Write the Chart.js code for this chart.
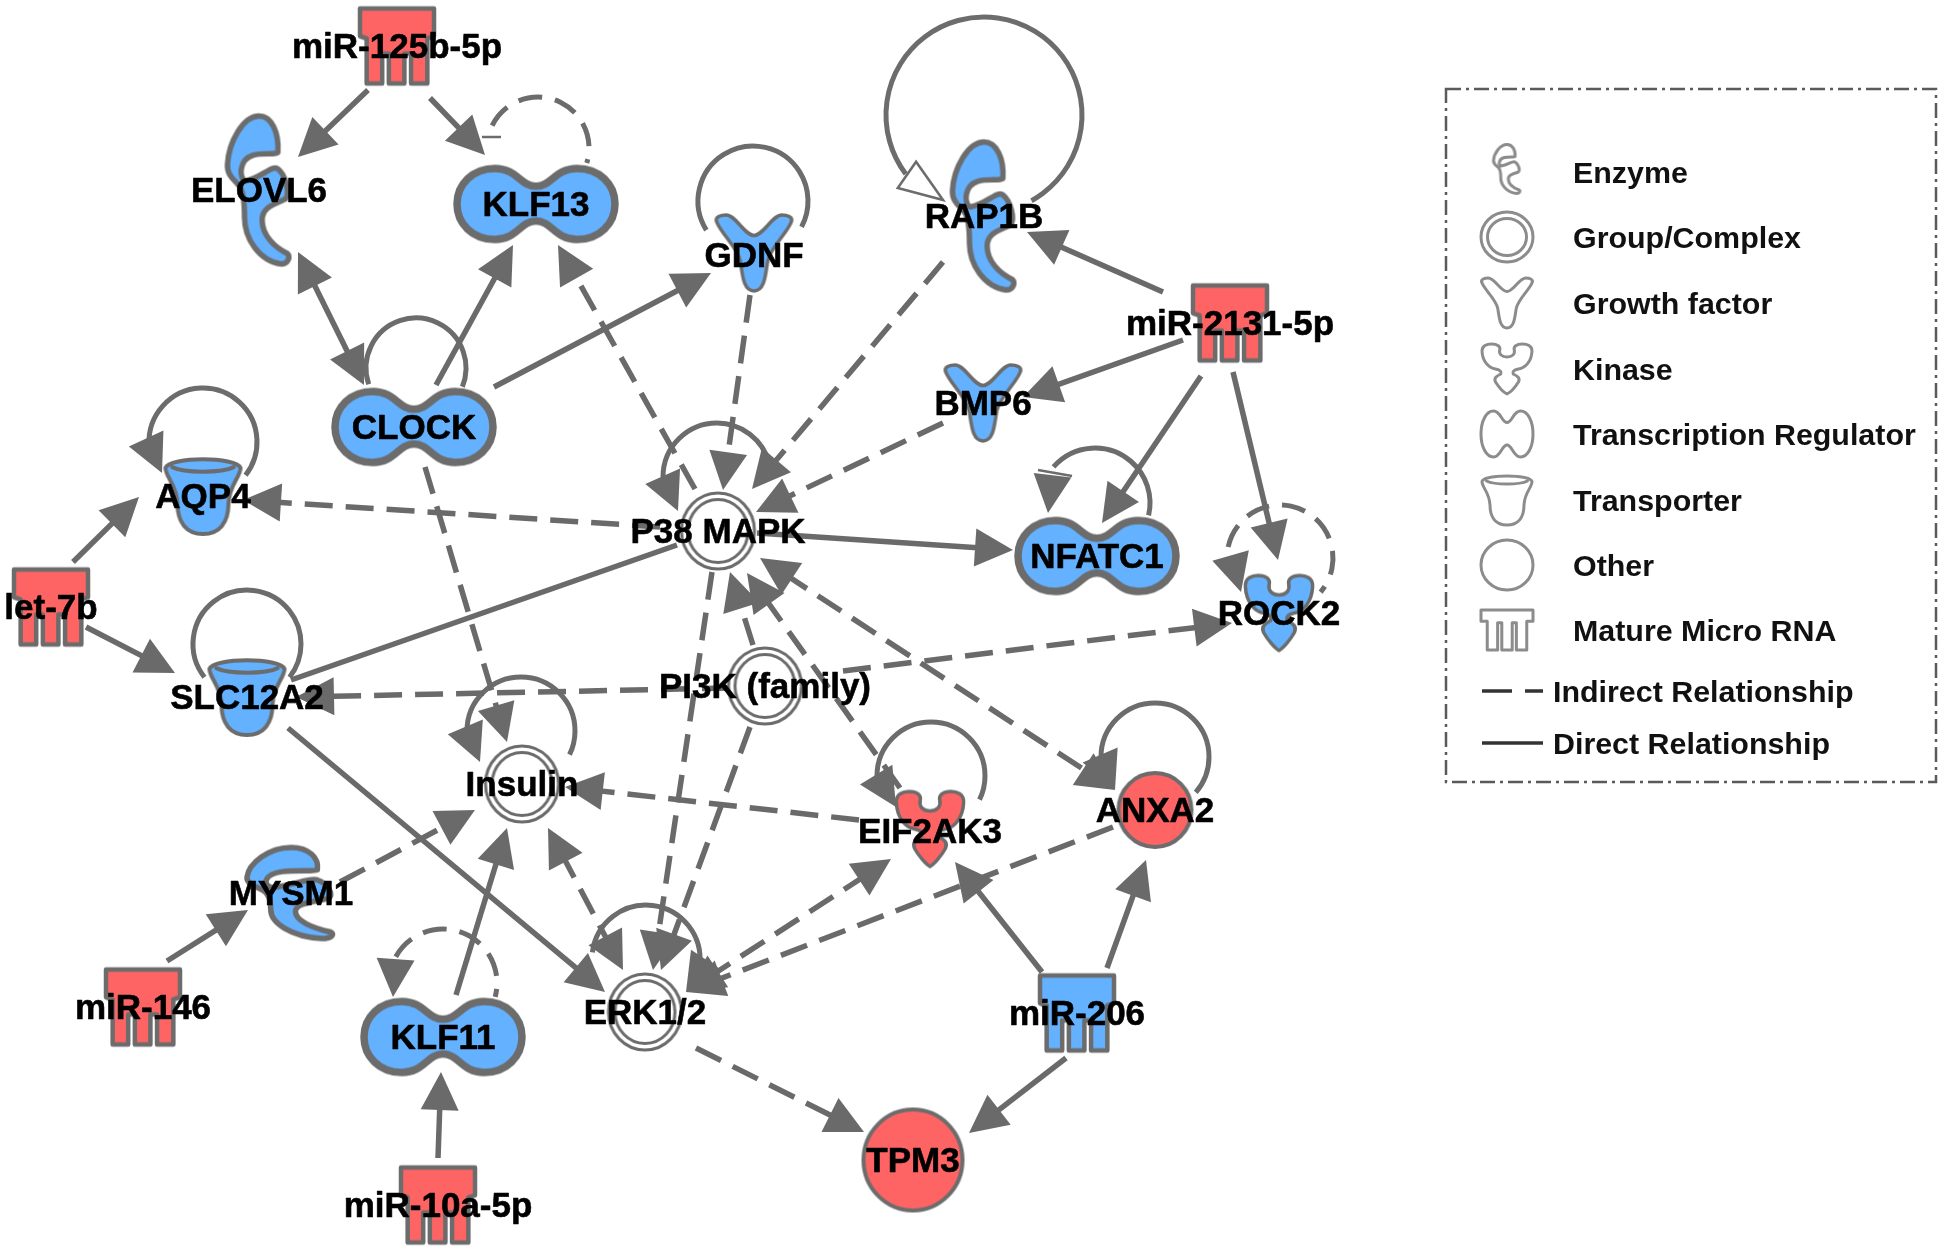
<!DOCTYPE html>
<html>
<head>
<meta charset="utf-8">
<title>IPA network</title>
<script src="https://cdn.jsdelivr.net/npm/chart.js@4"></script>
<style>
html,body{margin:0;padding:0;background:#fff;overflow:hidden}
#wrap{width:1946px;height:1250px}
canvas{display:block}
</style>
</head>
<body>
<div id="wrap"><canvas id="c" width="1946" height="1250"></canvas></div>
<script>
/* ---------- data (diagram units = 0..1946 / 0..1250) ---------- */
const nodeNames = ['miR-125b-5p','ELOVL6','KLF13','GDNF','RAP1B','miR-2131-5p','BMP6','CLOCK','AQP4','let-7b','SLC12A2','P38 MAPK','PI3K (family)','NFATC1','ROCK2','ANXA2','Insulin','EIF2AK3','MYSM1','miR-146','KLF11','miR-10a-5p','ERK1/2','TPM3','miR-206'];
const nodeX = [397,259,536,754,984,1230,983,414,203,51,247,718,765,1097,1279,1155,522,930,291,143,443,438,645,913,1077];
const nodeY = [46,190,204,253,216,323,403,427,496,607,697,531,686,556,613,810,784,829,893,1007,1037,1205,1012,1160,1013];
const nodeTypes = ['micro','enzyme','regulator','growth','enzyme','micro','growth','regulator','transporter','micro','transporter','group','group','regulator','kinase','other','group','kinase','enzyme','micro','regulator','micro','group','other','micro'];
const nodeTones = ['up','down','down','down','down','up','down','down','down','up','down','none','none','down','down','up','none','up','down','up','down','up','none','up','down'];

// [fromX, fromY, tipX, tipY]
const directEdges = [
 [368,90,298,157],[430,98,485,155],[436,385,513,245],[494,387,711,273],
 [757,533,1013,550],[288,728,605,992],[456,995,507,828],
 [73,562,139,497],[86,627,175,673],[167,961,248,910],[438,1158,441,1072],
 [1042,972,955,862],[1107,968,1146,860],[1066,1058,969,1133],
 [1163,292,1027,232],[1183,340,1023,397],[1201,376,1102,523],[1233,372,1278,560]
];
const directPlainEdges = [[677,545,291,680]];
const directDoubleEdges = [[364,385,298,252]];
const indirectEdges = [
 [695,489,558,245],[750,295,723,490],[943,262,752,489],[943,423,756,512],
 [660,527,243,500],[730,688,296,697],[843,671,1232,623],[753,645,730,572],
 [900,788,747,573],[712,572,653,970],[750,727,661,970],[1113,827,686,992],
 [859,820,565,787],[425,467,507,742],[340,882,475,810],[696,1048,864,1132]
];
const indirectDoubleEdges = [[760,558,1115,790],[548,828,623,970],[891,859,686,992]];

// [centreX, centreY, radius, startDeg, endDeg, dashed, tipX, tipY]
const selfLoops = [
 [984,115,98,143,421,0,943,200],[538,148,51,206,377,1,null,null],[753,201,55,148,388,0,null,null],
 [416,368,50,161,382,0,null,null],[203,442,54,177,398,0,162,473],[247,644,54,142,398,0,null,null],
 [717,477,54,180,345,0,678,511],[1095,503,55,221,373,0,1048,513],[1280,558,53,192,400,1,1241,592],
 [521,731,54,180,386,0,480,762],[931,776,54,180,386,0,896,807],[1155,757,54,180,401,0,1115,790],
 [646,959,54,187,376,0,686,992],[443,983,54,209,375,1,393,997]
];
const inhibitBars = [[482,137,501,137],[1038,470,1072,476]];

const legendLabels = ['Enzyme','Group/Complex','Growth factor','Kinase','Transcription Regulator','Transporter','Other','Mature Micro RNA'];
const legendTypes = ['enzyme','group','growth','kinase','regulator','transporter','other','microLegend'];
const legendRowY = [169,237,303,369,434,500,565,630];
const legendTextY = [172,237,303,369,434,500,565,630];
const legendLineLabels = ['Indirect Relationship','Direct Relationship'];
const legendLineY = [691,743];

/* ---------- styles ---------- */
const BLUE='#63b1ff', RED='#ff6464', GREY='#6c6c6c', EDGE='#6a6a6a';
const TONE={up:RED,down:BLUE,none:'#ffffff'};
const SIZE={micro:[74,75],enzyme:[63,151],regulator:[158,71],growth:[77,76],kinase:[70,75],transporter:[75,76],group:[73,76],other:[73,74]};
const SIZE_OVERRIDE={'TPM3':[99,101],'MYSM1':[88,93]};
const STROKE={micro:4.5,enzyme:5.5,regulator:7.5,growth:3.5,kinase:3.5,transporter:4,group:3,other:4};
const LABEL_SHIFT={'GDNF':2,'EIF2AK3':2};
const LEGEND_SIZE={enzyme:[27,50],group:[52,50],growth:[52,50],kinase:[52,50],regulator:[52,46],transporter:[50,50],other:[52,50],microLegend:[52,40]};
const PATHS={
 micro:'M0 0L1 0L1 .37L.91 .40L.91 1L.69 1L.69 .6L.60 .6L.60 1L.39 1L.39 .6L.30 .6L.30 1L.09 1L.09 .40L0 .37Z',
 microLegend:'M0 0L1 0L1 .28L.88 .28L.88 1L.68 1L.68 .32L.6 .32L.6 1L.4 1L.4 .32L.32 .32L.32 1L.12 1L.12 .28L0 .28Z',
 enzyme:'M.80 .25C.82 .12 .70 .01 .50 .01C.25 .01 .02 .18 0 .33C-.01 .40 .10 .43 .18 .47C.25 .50 .27 .58 .27 .68C.27 .82 .50 .97 .85 .99C.97 .99 1 .94 .95 .92C.75 .88 .55 .80 .55 .70C.55 .62 .70 .60 .92 .56C1 .52 .92 .40 .80 .36C.70 .33 .55 .42 .28 .44C.18 .42 .18 .30 .40 .27C.55 .25 .78 .27 .80 .25Z',
 regulator:'M0 .5C0 .22 .1 0 .24 0C.38 0 .40 .25 .5 .25C.60 .25 .62 0 .76 0C.9 0 1 .22 1 .5C1 .78 .9 1 .76 1C.62 1 .60 .74 .5 .74C.40 .74 .38 1 .24 1C.1 1 0 .78 0 .5Z',
 growth:'M.02 .1C-.02 .02 .08 0 .14 0C.26 0 .38 .27 .5 .27C.62 .27 .74 0 .86 0C.92 0 1.02 .02 .98 .1C.92 .25 .72 .42 .68 .6C.65 .75 .65 1 .5 1C.35 1 .35 .75 .32 .6C.28 .42 .08 .25 .02 .1Z',
 kinase:'M.02 .15C.01 .03 .12 0 .2 0C.32 0 .38 .05 .36 .12C.34 .20 .40 .26 .5 .26C.60 .26 .66 .20 .64 .12C.62 .05 .68 0 .8 0C.88 0 .99 .03 .98 .15C.97 .35 .85 .48 .72 .50C.62 .52 .60 .56 .62 .60C.70 .64 .76 .68 .72 .76C.66 .86 .56 .97 .5 1C.44 .97 .34 .86 .28 .76C.24 .68 .30 .64 .38 .60C.40 .56 .38 .52 .28 .50C.15 .48 .03 .35 .02 .15Z',
 transporter:'M0 .13C.05 -.02 .95 -.02 1 .13C1 .25 .85 .35 .84 .6C.84 .85 .72 1 .5 1C.28 1 .16 .85 .16 .6C.15 .35 0 .25 0 .13Z'
};
function tracePath(ctx,d,w,h){
  const re=/([MLCZ])([^MLCZ]*)/g; let m;
  while((m=re.exec(d))){
    const a=(m[2].match(/-?\d*\.?\d+/g)||[]).map(Number).map((v,i)=>i%2?v*h:v*w);
    if(m[1]==='M')ctx.moveTo(a[0],a[1]);
    else if(m[1]==='L')ctx.lineTo(a[0],a[1]);
    else if(m[1]==='C')ctx.bezierCurveTo(...a);
    else ctx.closePath();
  }
}
function makeIcon(type,w,h,fill,stroke,lw){
  const pad=8, c=document.createElement('canvas');
  c.width=w+pad*2; c.height=h+pad*2;
  const g=c.getContext('2d');
  g.translate(pad,pad); g.lineJoin='round'; g.lineCap='round';
  g.strokeStyle=stroke; g.lineWidth=lw; g.fillStyle=fill;
  const ell=(ins)=>{g.beginPath();g.ellipse(w/2,h/2,w/2-ins,h/2-ins,0,0,Math.PI*2);};
  if(type==='group'){ell(0);if(fill!=='rgba(0,0,0,0)')g.fill();g.stroke();ell(6.5);g.stroke();return c;}
  if(type==='other'){ell(0);g.fill();g.stroke();return c;}
  g.beginPath();tracePath(g,PATHS[type],w,h);g.fill();g.stroke();
  if(type==='transporter'){g.beginPath();g.moveTo(.09*w,.12*h);g.bezierCurveTo(.25*w,.2*h,.75*w,.2*h,.91*w,.12*h);g.stroke();}
  return c;
}
const nodeIcons=nodeNames.map((n,i)=>{
  const t=nodeTypes[i],s=SIZE_OVERRIDE[n]||SIZE[t];
  return makeIcon(t,s[0],s[1],TONE[nodeTones[i]],GREY,STROKE[t]);
});
const legendIcons=legendTypes.map(t=>makeIcon(t,LEGEND_SIZE[t][0],LEGEND_SIZE[t][1],'rgba(0,0,0,0)','#8c8c8c',3));

/* ---------- edges as line datasets ---------- */
const HEAD_LEN=38, HEAD_HALF=19, SHAFT_BACK=28;
function shaft(e,atStart,atEnd){
  const dx=e[2]-e[0],dy=e[3]-e[1],l=Math.hypot(dx,dy),ux=dx/l,uy=dy/l;
  return [
    {x:e[0]+(atStart?ux*SHAFT_BACK:0),y:e[1]+(atStart?uy*SHAFT_BACK:0)},
    {x:e[2]-(atEnd?ux*SHAFT_BACK:0),y:e[3]-(atEnd?uy*SHAFT_BACK:0)}
  ];
}
function edgeSet(e,atStart,atEnd,dash){
  return {type:'scatter',showLine:true,data:shaft(e,atStart,atEnd),borderColor:EDGE,borderWidth:5.5,
    borderDash:dash?[28,13]:[],pointRadius:0,fill:false,order:5,clip:false};
}
const datasets=[
 ...directEdges.map(e=>edgeSet(e,false,true,false)),
 ...directPlainEdges.map(e=>edgeSet(e,false,false,false)),
 ...directDoubleEdges.map(e=>edgeSet(e,true,true,false)),
 ...indirectEdges.map(e=>edgeSet(e,false,true,true)),
 ...indirectDoubleEdges.map(e=>edgeSet(e,true,true,true)),
 {type:'scatter',label:'nodes',data:nodeNames.map((n,i)=>({x:nodeX[i],y:nodeY[i]})),
  pointStyle:c=>nodeIcons[c.dataIndex],pointRadius:5,showLine:false,order:1,clip:false},
 {type:'scatter',label:'legend icons',data:legendLabels.map((n,i)=>({x:1507,y:legendRowY[i]})),
  pointStyle:c=>legendIcons[c.dataIndex],pointRadius:5,showLine:false,order:1,clip:false},
 {type:'scatter',showLine:true,data:[{x:1482,y:legendLineY[0]},{x:1543,y:legendLineY[0]}],borderColor:'#333',borderWidth:3.5,borderDash:[30,13],pointRadius:0,order:5},
 {type:'scatter',showLine:true,data:[{x:1482,y:legendLineY[1]},{x:1543,y:legendLineY[1]}],borderColor:'#333',borderWidth:3.5,pointRadius:0,order:5}
];

/* ---------- plugin: loops, arrowheads, labels, legend frame ---------- */
function head(ctx,x1,y1,x2,y2,open){
  const dx=x2-x1,dy=y2-y1,l=Math.hypot(dx,dy),ux=dx/l,uy=dy/l;
  const len=open?44:HEAD_LEN, half=open?16:HEAD_HALF;
  const bx=x2-ux*len,by=y2-uy*len;
  ctx.beginPath();ctx.moveTo(x2,y2);
  ctx.lineTo(bx-uy*half,by+ux*half);
  ctx.lineTo(bx+uy*half,by-ux*half);ctx.closePath();
  if(open){ctx.fillStyle='#fff';ctx.strokeStyle=GREY;ctx.lineWidth=2.5;ctx.fill();ctx.stroke();}
  else{ctx.fillStyle=EDGE;ctx.fill();}
}
const diagram={
 id:'diagram',
 beforeDatasetsDraw(chart){
  const {ctx,scales:{x,y}}=chart;
  ctx.save();ctx.strokeStyle=GREY;ctx.lineWidth=5;
  selfLoops.forEach(l=>{
    ctx.beginPath();ctx.setLineDash(l[5]?[24,13]:[]);
    ctx.arc(x.getPixelForValue(l[0]),y.getPixelForValue(l[1]),l[2],l[3]*Math.PI/180,l[4]*Math.PI/180);
    ctx.stroke();
  });
  ctx.setLineDash([]);
  // legend frame
  ctx.strokeStyle='#5a5a5a';ctx.lineWidth=2.5;ctx.setLineDash([15,5,3,5]);
  const lx=x.getPixelForValue(1446),ly=y.getPixelForValue(89);
  ctx.strokeRect(lx,ly,x.getPixelForValue(1936)-lx,y.getPixelForValue(782)-ly);
  ctx.restore();
 },
 afterDatasetsDraw(chart){
  const {ctx,scales:{x,y}}=chart, X=v=>x.getPixelForValue(v), Y=v=>y.getPixelForValue(v);
  ctx.save();
  const tips=(list,both)=>list.forEach(e=>{
    head(ctx,X(e[0]),Y(e[1]),X(e[2]),Y(e[3]));
    if(both)head(ctx,X(e[2]),Y(e[3]),X(e[0]),Y(e[1]));
  });
  tips(directEdges,false);tips(indirectEdges,false);
  tips(directDoubleEdges,true);tips(indirectDoubleEdges,true);
  selfLoops.forEach((l,i)=>{
    if(l[6]===null)return;
    const pts=[l[3],l[4]].map(a=>[l[0]+l[2]*Math.cos(a*Math.PI/180),l[1]+l[2]*Math.sin(a*Math.PI/180)]);
    const d=p=>Math.hypot(p[0]-l[6],p[1]-l[7]);
    const p=d(pts[0])<d(pts[1])?pts[0]:pts[1];
    head(ctx,X(p[0]),Y(p[1]),X(l[6]),Y(l[7]),i===0);
  });
  ctx.strokeStyle=GREY;ctx.lineWidth=2.5;
  inhibitBars.forEach(b=>{ctx.beginPath();ctx.moveTo(X(b[0]),Y(b[1]));ctx.lineTo(X(b[2]),Y(b[3]));ctx.stroke();});
  // node labels
  ctx.fillStyle='#000';ctx.strokeStyle='#000';ctx.lineWidth=.6;ctx.lineJoin='round';ctx.textAlign='center';ctx.textBaseline='middle';
  ctx.font='bold 35px "Liberation Sans"';
  nodeNames.forEach((n,i)=>{
    const ty=Y(nodeY[i])+2.5+(LABEL_SHIFT[n]||0);
    ctx.fillText(n,X(nodeX[i]),ty);ctx.strokeText(n,X(nodeX[i]),ty);
  });
  // legend labels
  ctx.fillStyle='#111';ctx.textAlign='left';ctx.font='bold 30.4px "Liberation Sans"';
  legendLabels.forEach((n,i)=>ctx.fillText(n,X(1573),Y(legendTextY[i])+2.5));
  legendLineLabels.forEach((n,i)=>ctx.fillText(n,X(1553),Y(legendLineY[i])+2.5));
  ctx.restore();
 }
};

new Chart(document.getElementById('c'),{
 type:'scatter',
 data:{datasets},
 plugins:[diagram],
 options:{
  responsive:false,animation:false,events:[],
  layout:{padding:0,autoPadding:false},
  plugins:{legend:{display:false},tooltip:{enabled:false},title:{display:false}},
  scales:{
   x:{type:'linear',min:0,max:1946,display:false},
   y:{type:'linear',min:0,max:1250,reverse:true,display:false}
  }
 }
});
</script>
</body>
</html>
